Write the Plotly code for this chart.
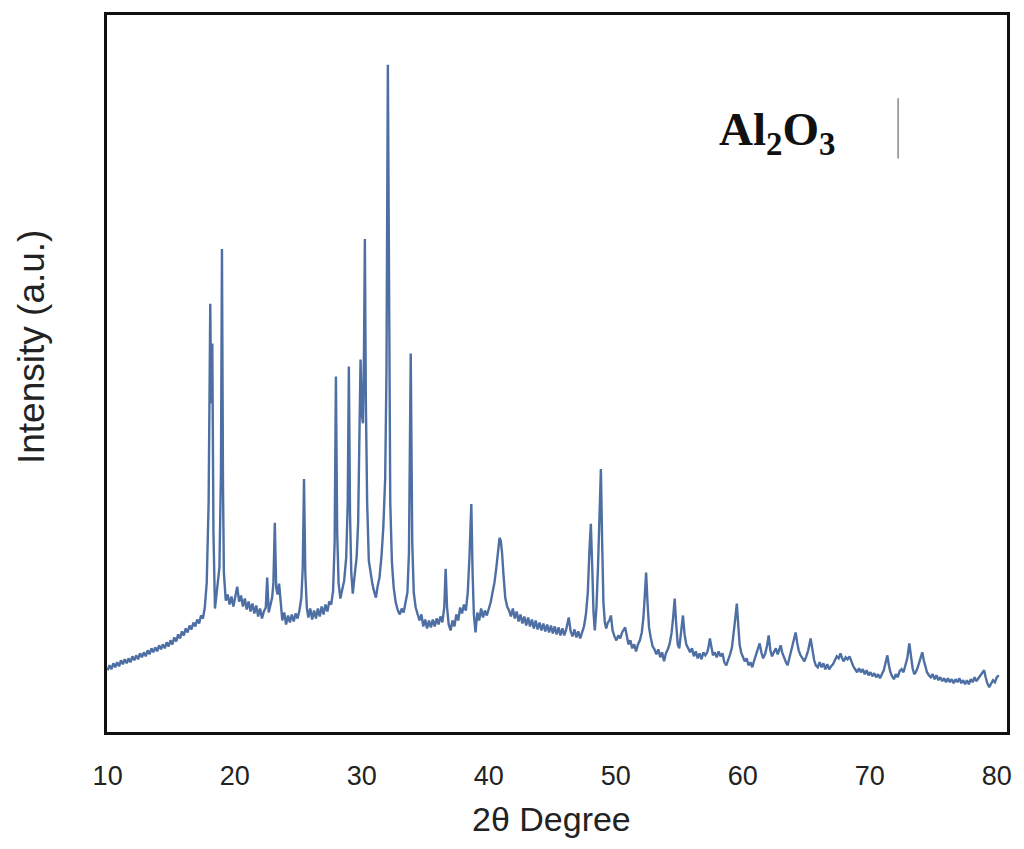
import plotly.graph_objects as go

# ---- data: (2theta, intensity a.u.) ----
region_10_18 = [(10.0,62),(10.15,67),(10.3,63),(10.45,69),(10.6,65),(10.75,70),(10.9,66),(11.05,72),(11.2,68),(11.35,73),(11.5,69),(11.65,74),(11.8,70),(11.95,76),(12.1,72),(12.25,77),(12.4,73),(12.55,79),(12.7,75),(12.85,80),(13.0,76),(13.15,82),(13.3,78),(13.45,84),(13.6,80),(13.75,85),(13.9,81),(14.05,87),(14.2,83),(14.35,88),(14.5,84),(14.65,90),(14.8,86),(14.95,92),(15.1,88),(15.25,95),(15.4,91),(15.55,98),(15.7,94),(15.85,101),(16.0,97),(16.15,104),(16.3,100),(16.45,107),(16.6,103),(16.75,110),(16.9,106),(17.05,113),(17.2,109),(17.35,117),(17.5,114),(17.65,125),(17.8,150)]
region_18_19 = [(17.95,230),(18.08,430),(18.15,330),(18.24,390),(18.33,200),(18.45,124),(18.6,140),(18.8,165),(18.92,260),(19.0,485),(19.08,250),(19.15,160),(19.3,132)]
region_19_26 = [(19.45,138),(19.6,128),(19.75,136),(19.9,126),(20.05,138),(20.2,146),(20.35,131),(20.5,137),(20.65,126),(20.8,134),(20.95,123),(21.1,131),(21.25,121),(21.4,129),(21.55,119),(21.7,127),(21.85,116),(22.0,124),(22.15,114),(22.3,121),(22.45,125),(22.56,155),(22.68,120),(22.8,128),(22.95,135),(23.05,150),(23.16,210),(23.27,145),(23.38,138),(23.5,149),(23.62,128),(23.75,112),(23.9,120),(24.05,108),(24.2,117),(24.35,110),(24.5,118),(24.65,111),(24.8,119),(24.95,114),(25.1,122),(25.25,135),(25.36,165),(25.46,254),(25.56,160),(25.68,125)]
region_26_34 = [(25.8,115),(25.95,124),(26.1,113),(26.25,122),(26.4,114),(26.55,124),(26.7,116),(26.85,126),(27.0,118),(27.15,128),(27.3,121),(27.45,131),(27.6,128),(27.75,142),(27.87,190),(27.97,357),(28.07,200),(28.18,150),(28.32,134),(28.48,145),(28.62,152),(28.78,175),(28.9,230),(28.99,367),(29.08,220),(29.18,160),(29.3,139),(29.45,158),(29.6,175),(29.72,210),(29.83,290),(29.91,374),(30.0,320),(30.1,310),(30.18,380),(30.25,495),(30.33,330),(30.43,230),(30.56,172),(30.7,160),(30.85,148),(31.0,140),(31.12,135),(31.25,146),(31.4,155),(31.55,175),(31.7,205),(31.85,255),(31.95,360),(32.06,670),(32.15,380),(32.25,230),(32.38,170),(32.52,145),(32.68,130),(32.85,122),(33.0,118),(33.15,124),(33.3,120),(33.45,130),(33.6,140),(33.72,180),(33.86,380),(33.98,190),(34.1,140),(34.25,125),(34.4,118)]
region_34_41 = [(34.55,112),(34.7,118),(34.85,106),(35.0,113),(35.15,104),(35.3,112),(35.45,105),(35.6,113),(35.75,106),(35.9,114),(36.05,108),(36.2,116),(36.35,110),(36.5,125),(36.61,164),(36.72,125),(36.85,108),(37.0,102),(37.15,112),(37.3,106),(37.45,118),(37.6,112),(37.75,125),(37.9,119),(38.05,128),(38.2,122),(38.35,140),(38.48,175),(38.63,229),(38.73,160),(38.83,118),(38.96,100),(39.1,120),(39.25,112),(39.4,124),(39.55,115),(39.7,122),(39.85,117),(40.0,124),(40.15,130),(40.3,140),(40.45,150),(40.6,165),(40.75,182),(40.85,195),(40.95,192),(41.05,180),(41.15,160),(41.3,135),(41.45,126)]
region_41_50 = [(41.6,122),(41.75,116),(41.9,124),(42.05,114),(42.2,121),(42.35,111),(42.5,118),(42.65,109),(42.8,116),(42.95,107),(43.1,115),(43.25,106),(43.4,113),(43.55,104),(43.7,112),(43.85,103),(44.0,110),(44.15,102),(44.3,109),(44.45,101),(44.6,108),(44.75,100),(44.9,107),(45.05,99),(45.2,106),(45.35,98),(45.5,105),(45.65,97),(45.8,104),(45.95,97),(46.1,103),(46.3,115),(46.45,101),(46.6,96),(46.75,103),(46.9,95),(47.05,101),(47.2,94),(47.35,100),(47.5,106),(47.65,118),(47.8,140),(47.92,180),(48.04,209),(48.15,165),(48.25,120),(48.35,102),(48.48,125),(48.6,165),(48.72,210),(48.83,264),(48.93,190),(49.03,130),(49.14,110),(49.25,104),(49.38,110),(49.5,112),(49.62,117),(49.75,102),(49.9,96),(50.05,92)]
region_50_61 = [(50.2,97),(50.35,94),(50.5,100),(50.62,102),(50.74,105),(50.88,96),(51.0,88),(51.15,92),(51.3,84),(51.45,88),(51.6,81),(51.75,88),(51.9,92),(52.05,100),(52.18,115),(52.3,140),(52.39,160),(52.5,130),(52.62,105),(52.75,95),(52.9,86),(53.05,83),(53.2,78),(53.35,83),(53.5,75),(53.65,80),(53.8,71),(53.95,79),(54.1,83),(54.25,89),(54.4,100),(54.52,115),(54.64,134),(54.76,108),(54.88,88),(55.0,84),(55.12,98),(55.29,117),(55.42,98),(55.55,88),(55.7,84),(55.85,80),(56.0,84),(56.15,76),(56.3,81),(56.45,74),(56.6,79),(56.75,73),(56.9,80),(57.05,77),(57.2,80),(57.3,85),(57.41,94),(57.52,84),(57.65,77),(57.8,80),(57.95,75),(58.1,81),(58.25,76),(58.4,79),(58.55,70),(58.7,67),(58.85,72),(59.0,78),(59.15,85),(59.3,100),(59.42,115),(59.53,129),(59.64,105),(59.75,88),(59.87,80),(60.0,76),(60.15,71),(60.3,74),(60.45,67),(60.6,70),(60.75,65)]
region_61_80 = [(60.9,72),(61.05,78),(61.2,84),(61.33,89),(61.46,80),(61.6,74),(61.75,78),(61.9,86),(62.04,97),(62.17,82),(62.3,76),(62.45,80),(62.6,84),(62.75,78),(62.88,82),(62.98,87),(63.1,80),(63.25,74),(63.4,70),(63.53,67),(63.68,75),(63.82,82),(63.95,88),(64.05,94),(64.16,100),(64.28,90),(64.4,82),(64.55,77),(64.7,74),(64.85,71),(65.0,76),(65.15,82),(65.34,94),(65.48,82),(65.62,72),(65.75,67),(65.9,65),(66.05,70),(66.2,65),(66.35,69),(66.5,63),(66.65,68),(66.8,63),(66.95,66),(67.1,68),(67.25,72),(67.4,76),(67.55,74),(67.69,79),(67.82,74),(67.95,71),(68.1,75),(68.25,73),(68.4,76),(68.55,70),(68.7,66),(68.85,63),(69.0,60),(69.15,64),(69.3,60),(69.45,63),(69.6,58),(69.75,62),(69.9,57),(70.05,60),(70.2,56),(70.35,59),(70.5,55),(70.65,58),(70.8,54),(70.95,58),(71.1,62),(71.25,70),(71.38,77),(71.5,67),(71.62,60),(71.75,56),(71.9,53),(72.05,58),(72.2,55),(72.35,61),(72.5,63),(72.65,60),(72.8,66),(72.95,74),(73.11,89),(73.24,75),(73.37,64),(73.5,58),(73.62,60),(73.75,64),(73.9,70),(74.02,76),(74.13,80),(74.25,72),(74.38,65),(74.5,60),(74.65,57),(74.8,55),(74.95,58),(75.1,53),(75.25,57),(75.4,52),(75.55,55),(75.7,51),(75.85,54),(76.0,50),(76.15,54),(76.3,50),(76.45,53),(76.6,49),(76.75,53),(76.9,50),(77.05,54),(77.2,49),(77.35,52),(77.5,48),(77.65,52),(77.8,48),(77.95,53),(78.1,50),(78.25,55),(78.4,51),(78.55,54),(78.7,57),(78.85,60),(79.0,62),(79.12,55),(79.25,49),(79.4,45),(79.55,49),(79.7,52),(79.85,50),(80.0,55),(80.15,57)]

x_ticks = [10, 20, 30, 40, 50, 60, 70, 80]
x_title = "2θ Degree"
y_title = "Intensity (a.u.)"
legend_label = "Al<sub>2</sub>O<sub>3</sub>"

regions = [region_10_18, region_18_19, region_19_26, region_26_34,
           region_34_41, region_41_50, region_50_61, region_61_80]
two_theta = [p[0] for r in regions for p in r]
intensity = [p[1] for r in regions for p in r]

fig = go.Figure()
fig.add_trace(go.Scatter(
    x=two_theta, y=intensity, mode="lines",
    line=dict(color="#4d6fa3", width=2.4),
    showlegend=False, hoverinfo="skip"))

fig.update_layout(
    width=1008, height=833,
    margin=dict(l=99, r=6, t=4, b=109),
    paper_bgcolor="white", plot_bgcolor="white",
    font=dict(family="Liberation Sans, Arial, sans-serif", color="#222"),
    xaxis=dict(range=[9.95, 80.8], tickvals=x_ticks, showgrid=False, zeroline=False,
               showline=True, linecolor="#111", linewidth=2.5, mirror=True,
               ticks="", tickfont=dict(size=27, color="#222"), ticklabelstandoff=18),
    yaxis=dict(range=[0, 720], showticklabels=False, showgrid=False, zeroline=False,
               showline=True, linecolor="#111", linewidth=2.5, mirror=True, ticks=""),
    annotations=[
        dict(text=x_title, xref="paper", yref="paper", x=0.494, y=-0.1505,
             showarrow=False, font=dict(size=34, color="#222"), xanchor="center", yanchor="bottom"),
        dict(text=y_title, xref="paper", yref="paper", x=-0.084, y=0.5375, textangle=-90,
             showarrow=False, font=dict(size=37, color="#222"), xanchor="center", yanchor="middle"),
        dict(text="<b>" + legend_label + "</b>", xref="paper", yref="paper", x=0.744, y=0.836,
             showarrow=False, font=dict(size=47, family="Liberation Serif, Times New Roman, serif", color="#111"),
             xanchor="center", yanchor="middle"),
    ],
    shapes=[dict(type="line", xref="paper", yref="paper", x0=0.879, x1=0.879, y0=0.8, y1=0.884,
                 line=dict(color="#888", width=1.5))],
)

fig.write_html("out.html")
